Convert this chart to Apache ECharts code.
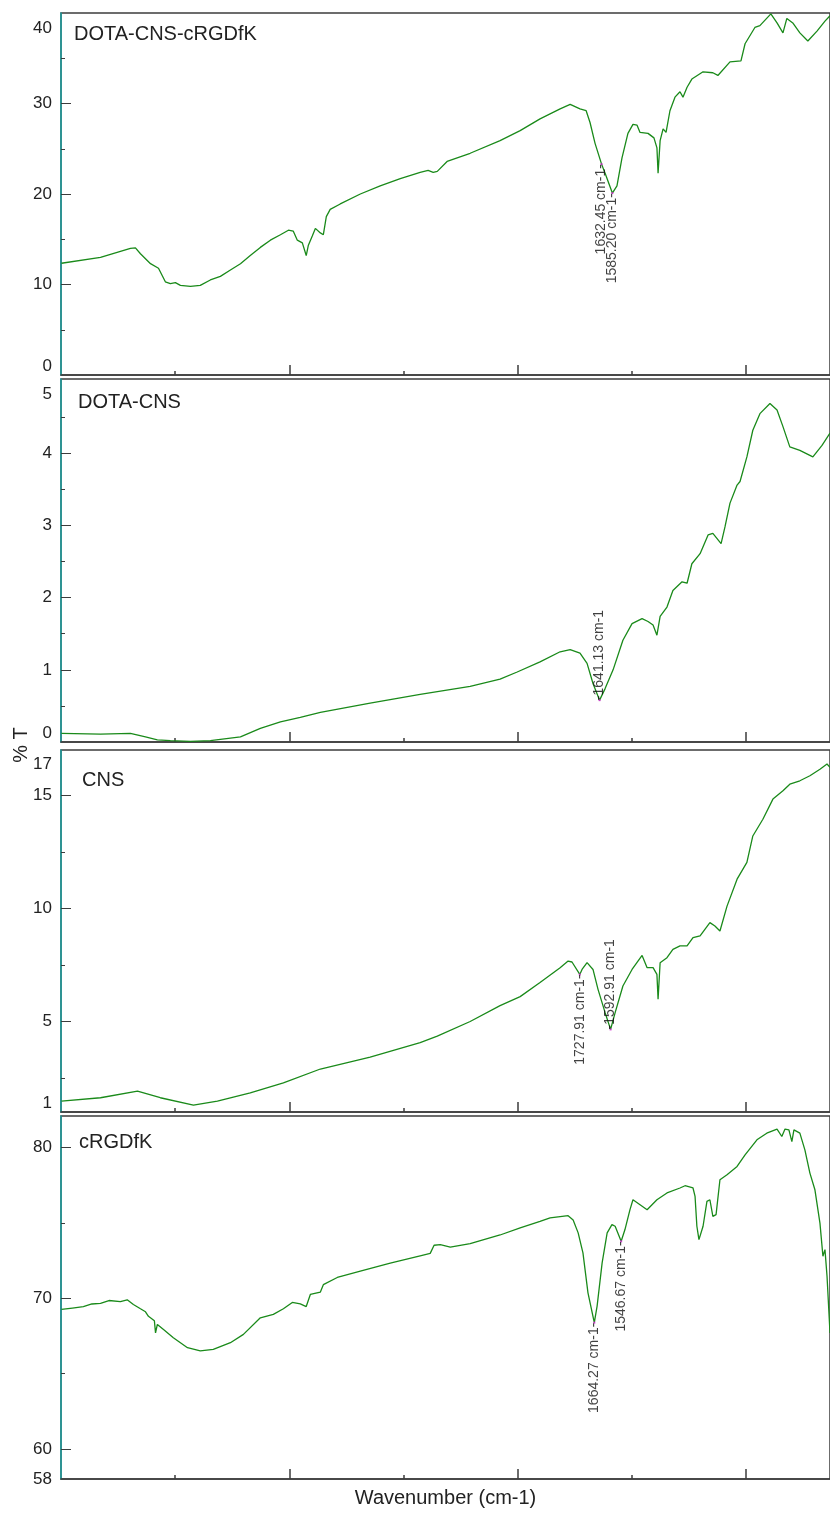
<!DOCTYPE html>
<html>
<head>
<meta charset="utf-8">
<title>FTIR</title>
<script src="https://cdn.jsdelivr.net/npm/echarts@6/dist/echarts.min.js"></script>
<style>
  html, body { margin: 0; padding: 0; background: #fff; }
  #chart { width: 830px; height: 1513px; }
</style>
</head>
<body>
<div id="chart"></div>
<script>
// panel names, top to bottom
var panelNames = ['DOTA-CNS-cRGDfK', 'DOTA-CNS', 'CNS', 'cRGDfK'];

// wavenumber ticks (no labels on the original)
var xMajorTicks = [3000, 2000, 1000];
var xMinorTicks = [3500, 2500, 1500];

// DOTA-CNS-cRGDfK  (wavenumber cm-1 / %T)
var p1Wn = [3998, 3827, 3696, 3674, 3652, 3608, 3573, 3543, 3521, 3499, 3477, 3433, 3390, 3346, 3302, 3258, 3214, 3171, 3127, 3083, 3039, 3004, 2983, 2965, 2943, 2926, 2917, 2899, 2886, 2864, 2851, 2838, 2821, 2777, 2689, 2602, 2514, 2427, 2392, 2370, 2352, 2309, 2208, 2077, 1989, 1902, 1814, 1770, 1727, 1700, 1683, 1661, 1632.45, 1617, 1585.20, 1565, 1543, 1517, 1495, 1477, 1464, 1429, 1403, 1390, 1385, 1376, 1363, 1350, 1333, 1311, 1289, 1276, 1258, 1237, 1188, 1145, 1123, 1070, 1022, 1004, 961, 939, 891, 864, 838, 821, 795, 764, 729, 689, 654, 632];
var p1T = [12.35, 13.0, 14.0, 14.05, 13.4, 12.3, 11.8, 10.3, 10.1, 10.2, 9.9, 9.8, 9.9, 10.5, 10.9, 11.6, 12.3, 13.2, 14.1, 14.9, 15.5, 16.0, 15.9, 14.9, 14.6, 13.2, 14.3, 15.4, 16.2, 15.7, 15.5, 17.5, 18.3, 18.9, 20.0, 20.9, 21.7, 22.4, 22.6, 22.4, 22.5, 23.6, 24.5, 25.9, 27.0, 28.3, 29.4, 29.9, 29.4, 29.2, 27.9, 25.6, 23.3, 22.3, 20.1, 20.9, 24.0, 26.7, 27.7, 27.6, 26.8, 26.7, 26.2, 25.1, 22.3, 25.9, 27.2, 26.8, 29.2, 30.7, 31.3, 30.7, 31.8, 32.7, 33.5, 33.4, 33.1, 34.6, 34.7, 36.6, 38.4, 38.6, 39.9, 38.9, 37.8, 39.4, 38.9, 37.8, 36.9, 38.0, 39.1, 39.7];
var p1Labels = [0, 10, 20, 30, 40];
var p1Major = [10, 20, 30];
var p1Minor = [5, 15, 25, 35];
var p1PeakWn = [1632.45, 1585.20];
var p1PeakT = [23.3, 20.1];

// DOTA-CNS
var p2Wn = [3998, 3827, 3696, 3630, 3578, 3521, 3433, 3346, 3214, 3127, 3039, 2952, 2864, 2646, 2427, 2208, 2077, 2002, 1902, 1814, 1770, 1727, 1696, 1670, 1641.13, 1617, 1582, 1539, 1499, 1455, 1429, 1407, 1390, 1376, 1346, 1320, 1280, 1258, 1237, 1201, 1166, 1145, 1109, 1092, 1070, 1039, 1026, 996, 970, 939, 895, 864, 838, 808, 764, 707, 667, 632];
var p2T = [0.12, 0.11, 0.12, 0.07, 0.03, 0.02, 0.01, 0.02, 0.07, 0.19, 0.28, 0.34, 0.41, 0.54, 0.66, 0.77, 0.87, 0.97, 1.11, 1.25, 1.28, 1.23, 1.09, 0.81, 0.58, 0.74, 1.0, 1.41, 1.64, 1.71, 1.67, 1.62, 1.48, 1.74, 1.87, 2.1, 2.22, 2.2, 2.47, 2.61, 2.87, 2.89, 2.75, 2.98, 3.31, 3.56, 3.61, 3.95, 4.32, 4.55, 4.69, 4.6, 4.37, 4.09, 4.04, 3.95, 4.11, 4.28];
var p2Labels = [0, 1, 2, 3, 4, 5];
var p2Major = [1, 2, 3, 4];
var p2Minor = [0.5, 1.5, 2.5, 3.5, 4.5];
var p2PeakWn = [1641.13];
var p2PeakT = [0.58];

// CNS
var p3Wn = [3998, 3827, 3665, 3565, 3420, 3315, 3171, 3026, 2864, 2646, 2427, 2352, 2208, 2077, 1989, 1902, 1814, 1779, 1762, 1727.91, 1718, 1696, 1670, 1648, 1617, 1592.91, 1573, 1539, 1499, 1455, 1433, 1407, 1390, 1385, 1376, 1346, 1320, 1289, 1258, 1232, 1201, 1158, 1136, 1114, 1083, 1039, 996, 970, 926, 882, 838, 808, 764, 720, 676, 645, 632];
var p3T = [1.48, 1.63, 1.92, 1.63, 1.30, 1.48, 1.85, 2.29, 2.9, 3.43, 4.07, 4.35, 5.0, 5.7, 6.1, 6.72, 7.38, 7.67, 7.63, 7.08, 7.3, 7.6, 7.3, 6.42, 5.39, 4.65, 5.39, 6.57, 7.3, 7.92, 7.38, 7.38, 7.08, 5.98, 7.6, 7.82, 8.19, 8.34, 8.34, 8.71, 8.78, 9.37, 9.22, 9.0, 10.1, 11.29, 12.03, 13.2, 13.94, 14.83, 15.2, 15.49, 15.64, 15.86, 16.15, 16.38, 16.23];
var p3Labels = [1, 5, 10, 15, 17];
var p3Major = [5, 10, 15];
var p3Minor = [2.5, 7.5, 12.5];
var p3PeakWn = [1727.91, 1592.91];
var p3PeakT = [7.08, 4.65];

// cRGDfK
var p4Wn = [3998, 3950, 3902, 3865, 3827, 3790, 3740, 3710, 3683, 3652, 3630, 3617, 3591, 3586, 3578, 3551, 3508, 3446, 3390, 3333, 3258, 3201, 3127, 3070, 3026, 2987, 2952, 2926, 2908, 2864, 2851, 2790, 2689, 2558, 2427, 2383, 2366, 2339, 2295, 2208, 2077, 1989, 1902, 1858, 1779, 1757, 1735, 1714, 1692, 1664.27, 1652, 1630, 1608, 1587, 1573, 1546.67, 1530, 1508, 1495, 1464, 1433, 1390, 1346, 1289, 1267, 1232, 1223, 1215, 1206, 1188, 1171, 1158, 1145, 1131, 1114, 1083, 1039, 1004, 952, 909, 864, 843, 829, 812, 799, 790, 764, 742, 720, 698, 676, 663, 654, 645, 632];
var p4T = [69.26, 69.35, 69.44, 69.62, 69.66, 69.85, 69.77, 69.9, 69.59, 69.3, 69.1, 68.8, 68.5, 67.7, 68.26, 67.93, 67.38, 66.72, 66.5, 66.6, 67.05, 67.6, 68.7, 68.93, 69.3, 69.72, 69.63, 69.45, 70.25, 70.41, 70.9, 71.38, 71.8, 72.34, 72.82, 72.98, 73.52, 73.56, 73.4, 73.62, 74.2, 74.67, 75.1, 75.33, 75.48, 75.2, 74.34, 73.01, 70.36, 68.38, 69.48, 72.35, 74.34, 74.89, 74.78, 73.78, 74.56, 75.88, 76.54, 76.21, 75.88, 76.54, 76.99, 77.32, 77.47, 77.32, 76.76, 74.78, 73.89, 74.78, 76.43, 76.54, 75.44, 75.55, 77.87, 78.2, 78.75, 79.52, 80.52, 80.96, 81.23, 80.74, 81.23, 81.18, 80.4, 81.18, 80.96, 79.85, 78.31, 77.2, 74.99, 72.79, 73.23, 71.46, 67.7];
var p4Labels = [58, 60, 70, 80];
var p4Major = [60, 70, 80];
var p4Minor = [65, 75];
var p4PeakWn = [1664.27, 1546.67];
var p4PeakT = [68.38, 73.78];

var FONT = '"Liberation Sans", Arial, sans-serif';
var GREEN = '#1a8a1a';
var TEAL = '#1aa0a0';
var DARK = '#3c3c3c';

// layout of the four stacked panels
var panels = [
  { wn: p1Wn, t: p1T, min: 0, max: 40, labels: p1Labels, major: p1Major, minor: p1Minor,
    peakWn: p1PeakWn, peakT: p1PeakT, side: ['below', 'below'],
    top: 13, height: 362, tx: 74, ty: 34, edge: true, padTop: 7 },
  { wn: p2Wn, t: p2T, min: 0, max: 5.03, labels: p2Labels, major: p2Major, minor: p2Minor,
    peakWn: p2PeakWn, peakT: p2PeakT, side: ['above'],
    top: 379, height: 363, tx: 78, ty: 402, edge: true, padTop: 5 },
  { wn: p3Wn, t: p3T, min: 1, max: 17, labels: p3Labels, major: p3Major, minor: p3Minor,
    peakWn: p3PeakWn, peakT: p3PeakT, side: ['below', 'above'],
    top: 750, height: 362, tx: 82, ty: 780, edge: true, padTop: 6 },
  { wn: p4Wn, t: p4T, min: 58, max: 82.1, labels: p4Labels, major: p4Major, minor: p4Minor,
    peakWn: p4PeakWn, peakT: p4PeakT, side: ['below', 'below'],
    top: 1116, height: 363, tx: 79, ty: 1142, edge: false, padTop: 0 }
];

var labelBelow = {
  show: true, position: 'inside', rotate: 90, align: 'right', verticalAlign: 'middle',
  fontSize: 14, fontFamily: FONT, color: '#111',
  formatter: function (p) { return p.value[0].toFixed(2) + ' cm-1-'; }
};
var labelAbove = {
  show: true, position: 'inside', rotate: 90, align: 'left', verticalAlign: 'middle',
  fontSize: 14, fontFamily: FONT, color: '#111',
  formatter: function (p) { return '-' + p.value[0].toFixed(2) + ' cm-1'; }
};

var grids = [], xAxes = [], yAxes = [], series = [], graphics = [];

panels.forEach(function (p, i) {
  grids.push({
    left: 61, right: 0, top: p.top, height: p.height,
    show: true, borderColor: DARK, borderWidth: 1.5
  });

  // x: major ticks axis + minor ticks overlay
  var xMain = {
    type: 'value', gridIndex: i, inverse: true, min: 632, max: 4000, position: 'bottom',
    splitLine: { show: false }, axisLabel: { show: false },
    axisLine: { show: true, onZero: false, lineStyle: { color: DARK, width: 1.5 } },
    axisTick: { show: true, inside: true, length: 10, customValues: xMajorTicks,
                lineStyle: { color: DARK, width: 1.5 } }
  };
  if (i === panels.length - 1) {
    xMain.name = 'Wavenumber (cm-1)';
    xMain.nameLocation = 'middle';
    xMain.nameGap = 9;
    xMain.nameTextStyle = { fontSize: 20, fontFamily: FONT, color: '#222' };
  }
  xAxes.push(xMain);
  xAxes.push({
    type: 'value', gridIndex: i, inverse: true, min: 632, max: 4000, position: 'bottom',
    splitLine: { show: false }, axisLabel: { show: false },
    axisLine: { show: false, onZero: false },
    axisTick: { show: true, inside: true, length: 4, customValues: xMinorTicks,
                lineStyle: { color: DARK, width: 1.5 } }
  });

  // y: labelled axis + minor ticks overlay
  var topLabel = p.labels[p.labels.length - 1];
  var yLabel = {
    customValues: p.labels, margin: 9, fontSize: 17, fontFamily: FONT, color: '#222',
    formatter: function (v) {
      return (p.edge && v === topLabel) ? '{hi|' + v + '}' : String(v);
    },
    rich: { hi: { padding: [p.padTop, 0, 0, 0], fontSize: 17, fontFamily: FONT, color: '#222' } }
  };
  if (p.edge) {
    yLabel.verticalAlignMinLabel = 'bottom';
    yLabel.verticalAlignMaxLabel = 'top';
  }
  yAxes.push({
    type: 'value', gridIndex: i, min: p.min, max: p.max, position: 'left',
    splitLine: { show: false },
    axisLine: { show: true, onZero: false, lineStyle: { color: TEAL, width: 1.5 } },
    axisTick: { show: true, inside: true, length: 10, customValues: p.major,
                lineStyle: { color: DARK, width: 1 } },
    axisLabel: yLabel
  });
  yAxes.push({
    type: 'value', gridIndex: i, min: p.min, max: p.max, position: 'left',
    splitLine: { show: false }, axisLabel: { show: false },
    axisLine: { show: false, onZero: false },
    axisTick: { show: true, inside: true, length: 4, customValues: p.minor,
                lineStyle: { color: DARK, width: 1 } }
  });

  series.push({
    type: 'line', xAxisIndex: 2 * i, yAxisIndex: 2 * i,
    data: p.wn.map(function (w, k) { return [w, p.t[k]]; }),
    showSymbol: false, symbol: 'none', smooth: false, clip: true,
    lineStyle: { color: GREEN, width: 1.3 }, z: 2
  });

  series.push({
    type: 'scatter', xAxisIndex: 2 * i, yAxisIndex: 2 * i,
    symbol: 'rect', symbolSize: 2, itemStyle: { color: '#d020d0' }, z: 3,
    data: p.peakWn.map(function (w, k) {
      return { value: [w, p.peakT[k]], label: p.side[k] === 'below' ? labelBelow : labelAbove };
    })
  });

  graphics.push({
    type: 'text', x: p.tx, y: p.ty,
    style: { text: panelNames[i], font: '20px ' + FONT, fill: '#222', verticalAlign: 'middle' }
  });
});

graphics.push({
  type: 'text', x: 21, y: 745, rotation: Math.PI / 2,
  style: { text: '% T', font: '20px ' + FONT, fill: '#222', align: 'center', verticalAlign: 'middle' }
});

var chart = echarts.init(document.getElementById('chart'), null, { renderer: 'canvas' });
chart.setOption({
  animation: false,
  backgroundColor: '#fff',
  grid: grids,
  xAxis: xAxes,
  yAxis: yAxes,
  series: series,
  graphic: graphics
});
</script>
</body>
</html>
